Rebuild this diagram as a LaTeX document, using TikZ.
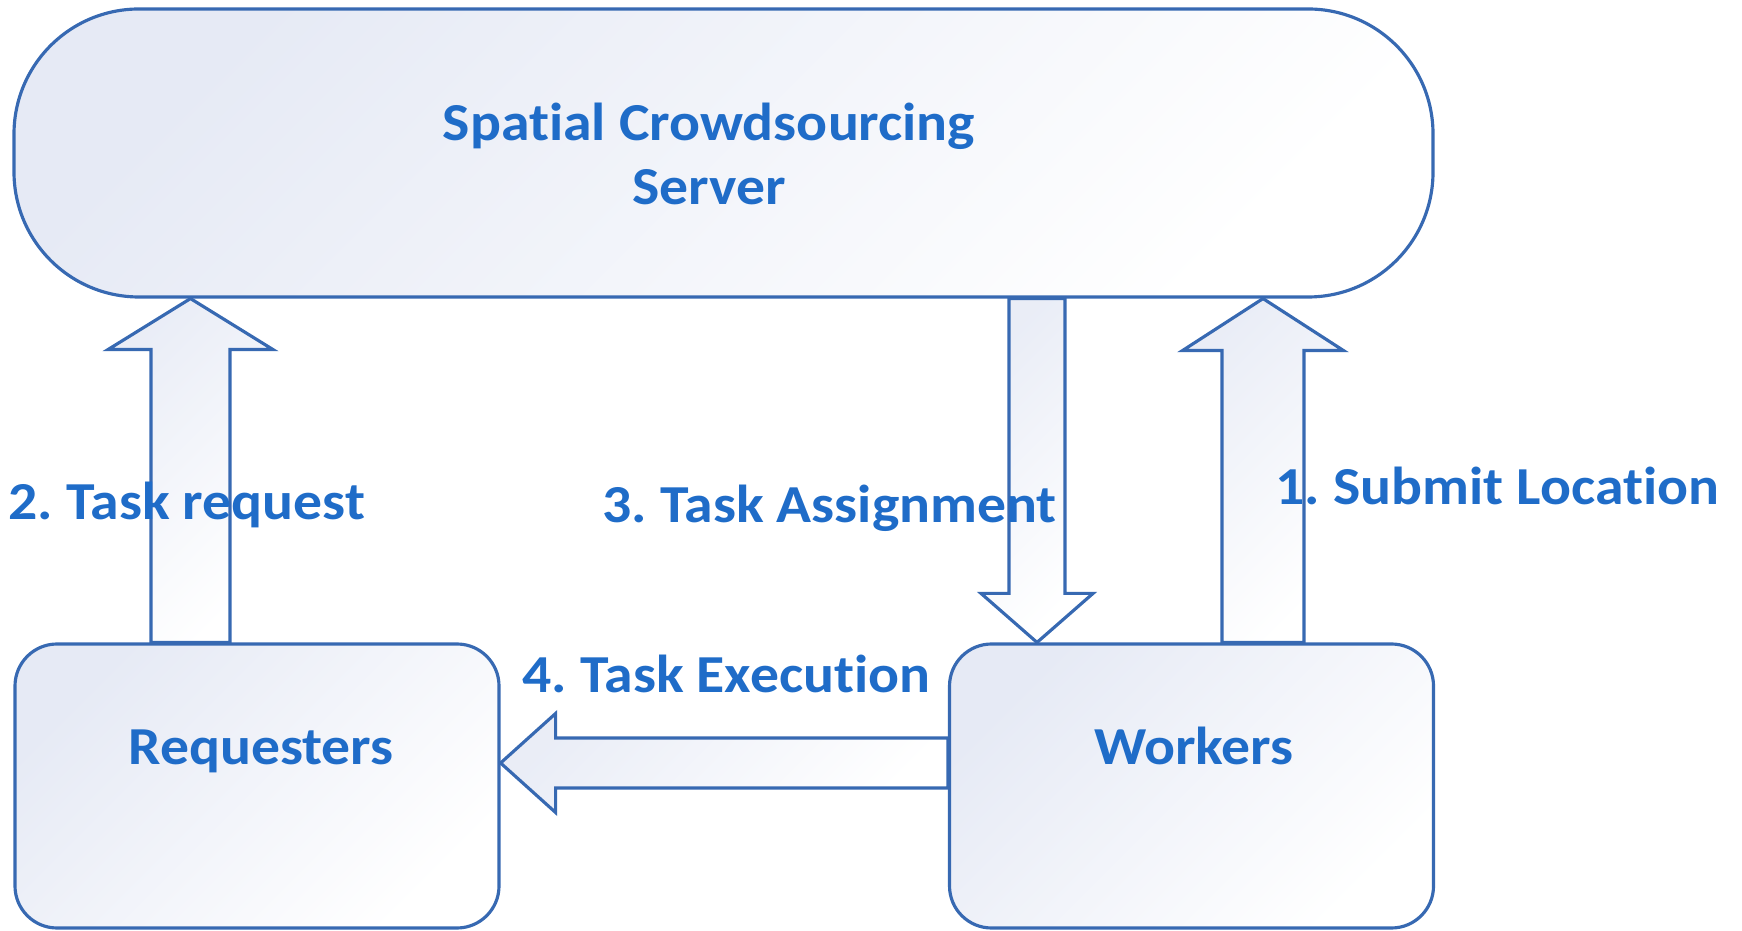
\documentclass[tikz,border=0pt]{standalone}
\usepackage{fontspec}
\setmainfont{Carlito}[FakeStretch=1.08, Ligatures=NoCommon]
\usetikzlibrary{calc}
\definecolor{edgeblue}{RGB}{55,105,178}
\definecolor{textblue}{RGB}{31,108,200}
\definecolor{shadeblue}{RGB}{230,234,245}
\frenchspacing
\begin{document}
\begin{tikzpicture}[
  shapebox/.style={draw=edgeblue, line width=0.9pt, top color=shadeblue, bottom color=white,
    shading angle=45, inner sep=0pt},
  server/.style={shapebox, rounded corners=1.25cm, minimum width=14.19cm, minimum height=2.88cm},
  party/.style={shapebox, rounded corners=0.42cm, minimum width=4.84cm, minimum height=2.84cm},
  blockarrow/.style={draw=edgeblue, line width=0.9pt, line join=miter, top color=shadeblue!85,
    bottom color=white, shading angle=45},
  lbl/.style={text=textblue, font=\bfseries\fontsize{15.2pt}{18pt}\selectfont, inner sep=0pt}
]
\useasboundingbox (0,0) rectangle (17.42,9.30);

% main blocks
\node[server] (srv) at (7.235,7.77) {};
\node[party] (req) at (2.57,1.44) {};
\node[party] (wrk) at (11.915,1.44) {};

% 2. requesters -> server
\coordinate (a2b) at (1.905,0 |- req.north);
\coordinate (a2t) at (1.905,0 |- srv.south);
\draw[blockarrow] ([xshift=-0.395cm]a2b) -- ([xshift=-0.395cm,yshift=-0.51cm]a2t)
  -- ([xshift=-0.825cm,yshift=-0.51cm]a2t) -- (a2t)
  -- ([xshift=0.825cm,yshift=-0.51cm]a2t) -- ([xshift=0.395cm,yshift=-0.51cm]a2t)
  -- ([xshift=0.395cm]a2b) -- cycle;

% 1. workers -> server
\coordinate (a1b) at (12.63,0 |- wrk.north);
\coordinate (a1t) at (12.63,0 |- srv.south);
\draw[blockarrow] ([xshift=-0.41cm]a1b) -- ([xshift=-0.41cm,yshift=-0.52cm]a1t)
  -- ([xshift=-0.805cm,yshift=-0.52cm]a1t) -- (a1t)
  -- ([xshift=0.805cm,yshift=-0.52cm]a1t) -- ([xshift=0.41cm,yshift=-0.52cm]a1t)
  -- ([xshift=0.41cm]a1b) -- cycle;

% 3. server -> workers
\coordinate (a3t) at (10.37,0 |- srv.south);
\coordinate (a3b) at (10.37,0 |- wrk.north);
\draw[blockarrow] ([xshift=-0.28cm]a3t) -- ([xshift=-0.28cm,yshift=0.49cm]a3b)
  -- ([xshift=-0.56cm,yshift=0.49cm]a3b) -- (a3b)
  -- ([xshift=0.56cm,yshift=0.49cm]a3b) -- ([xshift=0.28cm,yshift=0.49cm]a3b)
  -- ([xshift=0.28cm]a3t) -- cycle;

% 4. workers -> requesters
\coordinate (a4r) at (wrk.west |- 0,1.67);
\coordinate (a4l) at (req.east |- 0,1.67);
\draw[blockarrow] ([yshift=0.25cm]a4r) -- ([xshift=0.55cm,yshift=0.25cm]a4l)
  -- ([xshift=0.55cm,yshift=0.495cm]a4l) -- (a4l)
  -- ([xshift=0.55cm,yshift=-0.495cm]a4l) -- ([xshift=0.55cm,yshift=-0.25cm]a4l)
  -- ([yshift=-0.25cm]a4r) -- cycle;

% texts
\node[lbl, anchor=base] (srvA) at (7.09,7.89) {Spatial Crowdsourcing};
\node[lbl, anchor=base] (srvB) at (7.09,7.25) {Server};
\node[lbl, anchor=base] (reqT) at (2.61,1.65) {Requesters};
\node[lbl, anchor=base] (wrkT) at (11.94,1.65) {Workers};
\node[lbl, anchor=base west] (l2) at (0.08,4.10) {2. Task request};
\node[lbl, anchor=base west] (l3) at (6.02,4.07) {3. Task Assignment};
\node[lbl, anchor=base west] (l1) at (12.75,4.25) {1. Submit Location};
\node[lbl, anchor=base west] (l4) at (5.22,2.37) {4. Task Execution};
\end{tikzpicture}
\end{document}
